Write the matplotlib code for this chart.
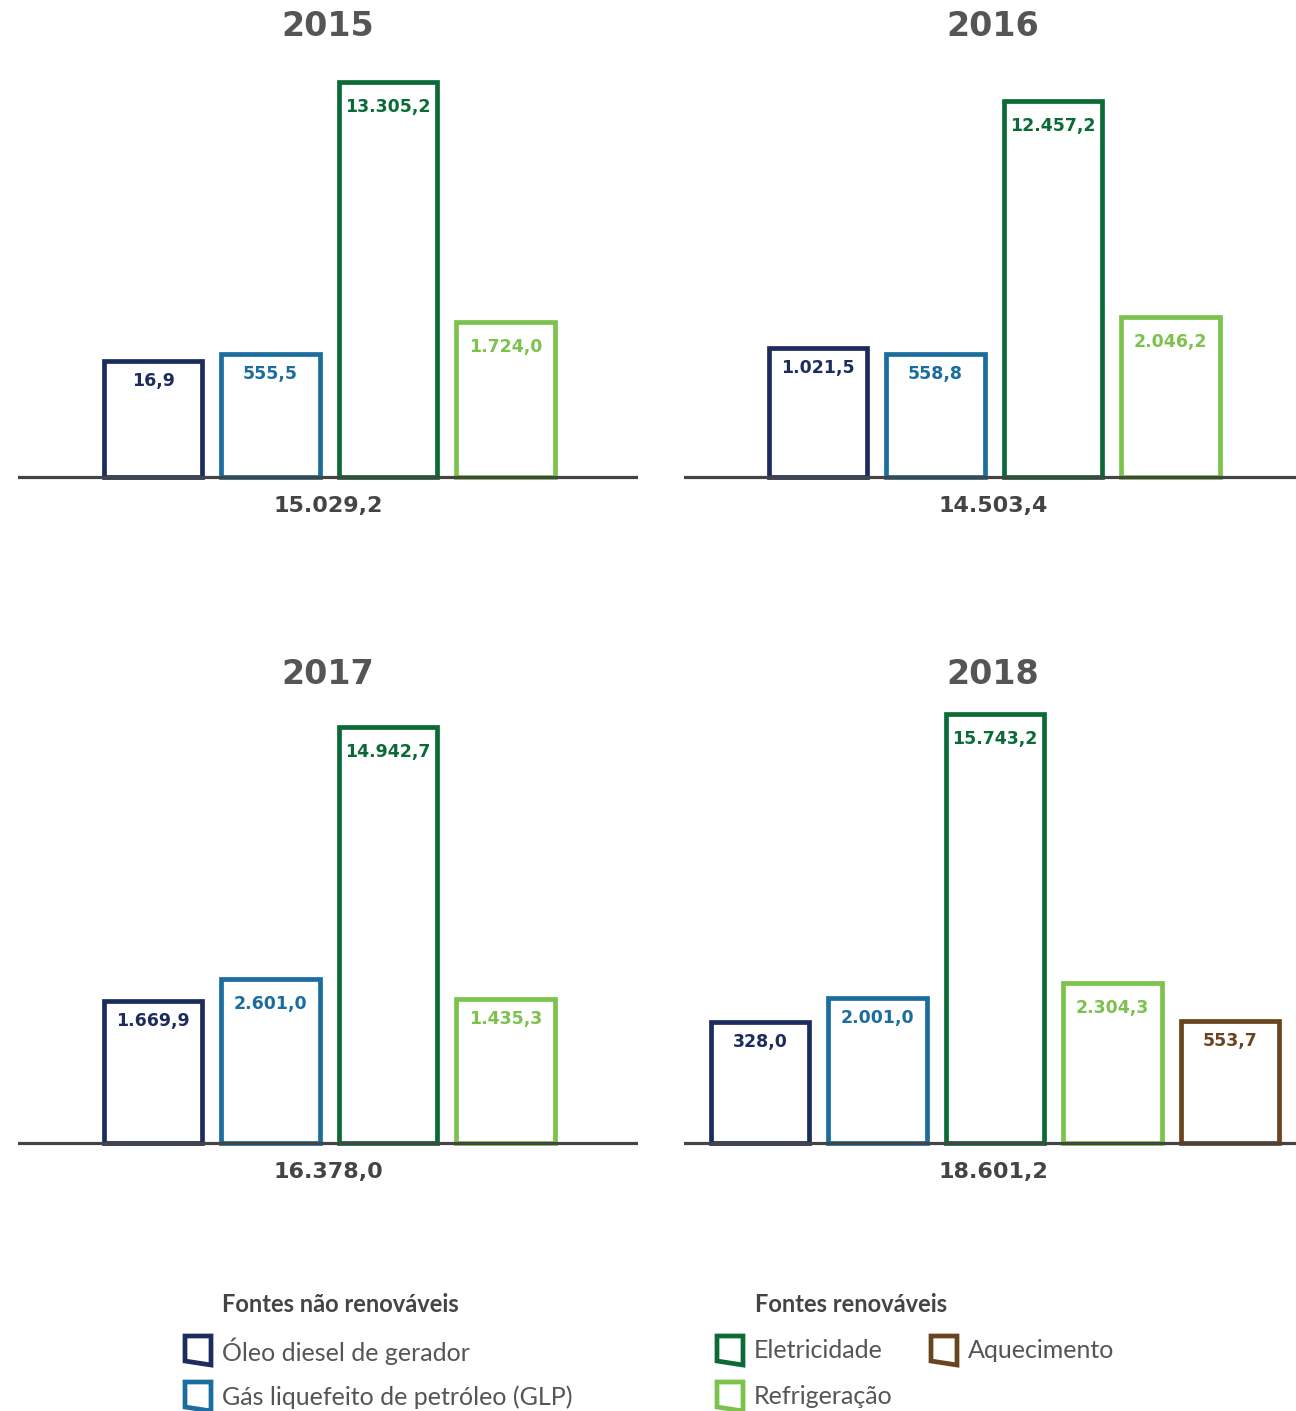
import numpy as np
import matplotlib
matplotlib.use("Agg")
import matplotlib.pyplot as plt
from matplotlib.patches import Polygon

plt.rcParams['font.family'] = ['Lato', 'DejaVu Sans']
NUMFONT = 'DejaVu Sans'

years = ['2015', '2016', '2017', '2018']
series = ['Óleo diesel de gerador', 'Gás liquefeito de petróleo (GLP)',
          'Eletricidade', 'Refrigeração', 'Aquecimento']
colors = ['#1d2c5e', '#1a6d9e', '#0b6b37', '#7cc24c', '#6a441e']

# values per year (None = not reported)
oleo = [16.9, 1021.5, 1669.9, 328.0]
glp = [555.5, 558.8, 2601.0, 2001.0]
eletr = [13305.2, 12457.2, 14942.7, 15743.2]
refrig = [1724.0, 2046.2, 1435.3, 2304.3]
aquec = [None, None, None, 553.7]
totals = [15029.2, 14503.4, 16378.0, 18601.2]

# bar heights as drawn in the original (stylised, not to scale)
oleo_h = [116, 129, 142, 121]
glp_h = [123, 123, 164, 145]
eletr_h = [395, 376, 416, 429]
refrig_h = [155, 160, 144, 160]
aquec_h = [None, None, None, 122]

W, H = 1296, 1411
fig = plt.figure(figsize=(W / 100, H / 100), dpi=100)


def fmt(v):
    s = f"{v:,.1f}"
    return s.replace(',', 'X').replace('.', ',').replace('X', '.')


# panel geometry in pixels: left, width, baseline y, first bar center offset
panels = [(18, 620, 477, 135), (684, 612, 477, 134),
          (18, 620, 1143, 135), (684, 612, 1143, 76)]
title_y = [26, 26, 674, 674]
step = 117.5

for i, yr in enumerate(years):
    left, width, base, off = panels[i]
    ax = fig.add_axes([left / W, (H - base - 6) / H, width / W, 466 / H])
    ax.set_xlim(-off / step, (width - off) / step)
    ax.set_ylim(-6, 460)
    ax.axis('off')
    vals = [oleo[i], glp[i], eletr[i], refrig[i], aquec[i]]
    hts = [oleo_h[i], glp_h[i], eletr_h[i], refrig_h[i], aquec_h[i]]
    k = 0
    for j in range(5):
        if vals[j] is None:
            continue
        ax.bar(k, hts[j], width=0.835, fill=False, edgecolor=colors[j],
               linewidth=3.4, zorder=2)
        dy = 20 if hts[j] < 150 else 25
        ax.text(k, hts[j] - dy, fmt(vals[j]), ha='center', va='center',
                color=colors[j], fontsize=12.5, fontweight='bold',
                family=NUMFONT, zorder=4)
        k += 1
    ax.axhline(0, color='#444444', lw=2.3, zorder=3)
    cx = 328 / W if i % 2 == 0 else 993 / W
    fig.text(cx, 1 - title_y[i] / H, yr, ha='center', va='center',
             fontsize=24, fontweight='bold', color='#555555', family=NUMFONT)
    fig.text(cx, 1 - (base + 29) / H, fmt(totals[i]), ha='center',
             va='center', fontsize=16, fontweight='bold', color='#444444',
             family=NUMFONT)

# legend
lg = fig.add_axes([0, 0, 1, 1])
lg.set_xlim(0, W)
lg.set_ylim(H, 0)
lg.axis('off')
lg.text(222, 1305, 'Fontes não renováveis', fontsize=17, fontweight='bold',
        color='#444444', va='center')
lg.text(755, 1305, 'Fontes renováveis', fontsize=17, fontweight='bold',
        color='#444444', va='center')
items = [(183, 1351, 0), (183, 1397, 1), (715, 1351, 2), (715, 1397, 3), (929, 1351, 4)]
for x, y, j in items:
    pts = [(x + 2, y - 15), (x + 28, y - 15), (x + 28, y + 14), (x + 2, y + 10)]
    lg.add_patch(Polygon(pts, closed=True, fill=False, edgecolor=colors[j],
                         linewidth=3.4, joinstyle='miter'))
    lg.text(x + 39, y, series[j], fontsize=18, color='#555555', va='center')

fig.savefig('out.png', dpi=100)
